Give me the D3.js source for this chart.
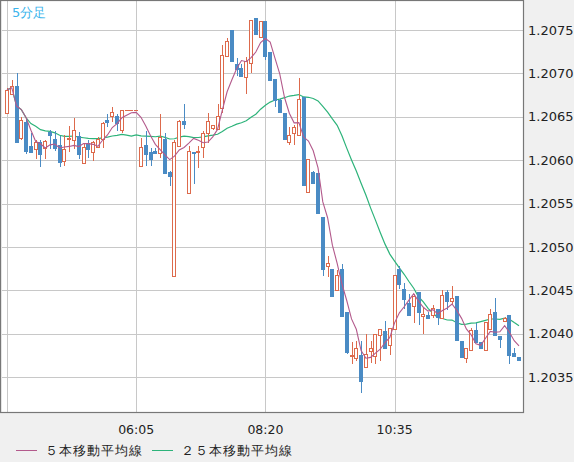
<!DOCTYPE html>
<html>
<head>
<meta charset="utf-8">
<script src="https://cdn.jsdelivr.net/npm/d3@7"></script>
<style>
  body { margin: 0; background: #f0f0f0; }
  text { font-family: "DejaVu Sans", sans-serif; }
</style>
</head>
<body>
<svg id="chart" width="574" height="462"></svg>
<script>
// 5-minute candles, first bar 03:50
const opens = [1.20654,1.20677,1.20685,1.20625,1.20644,1.20616,1.20613,1.20621,1.20614,1.20632,1.20624,1.20618,1.20599,1.20624,1.20624,1.20628,1.20596,1.20620,1.20610,1.20615,1.20624,1.20646,1.20651,1.20651,1.20635,1.20658,1.20658,1.20658,
  1.20593,1.20618,1.20609,1.20611,1.20609,1.20624,1.20586,1.20466,1.20616,1.20645,1.20562,1.20609,1.20609,1.20615,1.20631,1.20637,1.20636,1.20660,1.20720,1.20750,1.20711,1.20706,1.20696,1.20711,1.20764,1.20742,1.20760,
  1.20725,1.20693,1.20669,1.20654,1.20621,1.20631,1.20629,1.20673,1.20563,1.20586,1.20585,1.20534,1.20478,1.20474,1.20451,1.20474,1.20425,1.20374,1.20371,1.20375,1.20361,1.20381,1.20375,1.20398,1.20403,1.20386,1.20406,
  1.20475,1.20452,1.20435,1.20431,1.20448,1.20421,1.20421,1.20421,1.20428,1.20418,1.20448,1.20438,1.20443,1.20391,1.20371,1.20381,1.20404,1.20390,1.20381,1.20406,1.20425,1.20397,1.20415,1.20421,1.20378,1.20373];
const highs = [1.20683,1.20692,1.20700,1.20650,1.20648,1.20631,1.20623,1.20623,1.20623,1.20635,1.20633,1.20628,1.20629,1.20639,1.20648,1.20632,1.20620,1.20623,1.20622,1.20627,1.20644,1.20653,1.20661,1.20653,1.20658,1.20658,1.20658,1.20658,
  1.20625,1.20633,1.20614,1.20614,1.20653,1.20631,1.20588,1.20623,1.20646,1.20665,1.20616,1.20609,1.20616,1.20633,1.20654,1.20641,1.20665,1.20733,1.20741,1.20750,1.20718,1.20711,1.20719,1.20761,1.20764,1.20760,1.20760,
  1.20725,1.20693,1.20671,1.20654,1.20638,1.20641,1.20695,1.20673,1.20601,1.20588,1.20585,1.20534,1.20490,1.20474,1.20473,1.20480,1.20425,1.20390,1.20392,1.20392,1.20400,1.20392,1.20400,1.20405,1.20414,1.20406,1.20468,
  1.20478,1.20458,1.20446,1.20446,1.20448,1.20429,1.20425,1.20433,1.20428,1.20450,1.20450,1.20455,1.20443,1.20391,1.20383,1.20406,1.20412,1.20390,1.20413,1.20428,1.20441,1.20397,1.20419,1.20421,1.20384,1.20373];
const lows = [1.20653,1.20677,1.20620,1.20623,1.20607,1.20609,1.20601,1.20592,1.20601,1.20613,1.20611,1.20592,1.20593,1.20609,1.20613,1.20601,1.20596,1.20602,1.20599,1.20614,1.20614,1.20638,1.20644,1.20633,1.20631,1.20658,1.20658,1.20658,
  1.20593,1.20593,1.20593,1.20608,1.20603,1.20585,1.20570,1.20466,1.20615,1.20636,1.20562,1.20573,1.20591,1.20603,1.20620,1.20635,1.20636,1.20654,1.20719,1.20714,1.20697,1.20697,1.20676,1.20700,1.20746,1.20742,1.20715,
  1.20693,1.20661,1.20655,1.20624,1.20617,1.20618,1.20629,1.20572,1.20562,1.20573,1.20539,1.20467,1.20465,1.20443,1.20450,1.20420,1.20377,1.20365,1.20369,1.20332,1.20361,1.20366,1.20365,1.20369,1.20382,1.20375,1.20406,
  1.20452,1.20428,1.20421,1.20412,1.20410,1.20400,1.20417,1.20418,1.20410,1.20418,1.20427,1.20434,1.20392,1.20373,1.20366,1.20381,1.20389,1.20382,1.20381,1.20404,1.20399,1.20383,1.20414,1.20365,1.20374,1.20369];
const closes = [1.20681,1.20686,1.20620,1.20646,1.20611,1.20609,1.20621,1.20607,1.20622,1.20629,1.20614,1.20598,1.20613,1.20625,1.20635,1.20607,1.20615,1.20613,1.20621,1.20624,1.20643,1.20644,1.20656,1.20643,1.20658,1.20658,1.20658,1.20658,
  1.20615,1.20608,1.20601,1.20609,1.20627,1.20585,1.20581,1.20621,1.20645,1.20641,1.20610,1.20608,1.20610,1.20631,1.20645,1.20640,1.20651,1.20721,1.20737,1.20714,1.20705,1.20697,1.20714,1.20761,1.20746,1.20760,1.20720,
  1.20693,1.20669,1.20655,1.20624,1.20629,1.20638,1.20670,1.20572,1.20601,1.20573,1.20539,1.20474,1.20481,1.20443,1.20468,1.20420,1.20379,1.20375,1.20383,1.20345,1.20376,1.20384,1.20400,1.20405,1.20383,1.20406,1.20468,
  1.20458,1.20440,1.20421,1.20443,1.20425,1.20423,1.20418,1.20429,1.20419,1.20444,1.20438,1.20441,1.20392,1.20373,1.20383,1.20404,1.20390,1.20383,1.20413,1.20423,1.20399,1.20393,1.20418,1.20375,1.20374,1.20369];
const timeTicks = [27, 54, 81];
const timeLabels = ["06:05", "08:20", "10:35"];
const priceTicks = [1.2035, 1.2040, 1.2045, 1.2050, 1.2055, 1.2060, 1.2065, 1.2070, 1.2075];

const svg = d3.select("#chart");
const pL = 2, pR = 523, pT = 1, pB = 412;

const x = d3.scaleLinear().domain([0, 107]).range([7, 519]);
const y = d3.scaleLinear().domain([1.2035, 1.2075]).range([377, 30]);

svg.append("rect").attr("x", pL).attr("y", pT).attr("width", pR - pL).attr("height", pB - pT)
  .attr("fill", "#fff");

// grid
const grid = svg.append("g").attr("stroke", "#c8c8c8").attr("shape-rendering", "crispEdges");
grid.selectAll(".h").data(priceTicks).enter().append("line")
  .attr("x1", pL).attr("x2", pR).attr("y1", d => Math.round(y(d)) + 0.5).attr("y2", d => Math.round(y(d)) + 0.5);
grid.selectAll(".v").data([0].concat(timeTicks)).enter().append("line")
  .attr("y1", pT).attr("y2", pB).attr("x1", d => Math.round(x(d)) + 0.5).attr("x2", d => Math.round(x(d)) + 0.5);

// moving averages
function ma(n) {
  return closes.map((c, i) => d3.mean(closes.slice(Math.max(0, i - n + 1), i + 1)));
}
const line = d3.line().x((d, i) => x(i)).y(d => y(d));
const plot = svg.append("g");
plot.append("path").attr("d", line(ma(25))).attr("fill", "none").attr("stroke", "#2db37a").attr("stroke-width", 1.2);

// candles
const idx = d3.range(closes.length);
const up = "#dd6a4c", down = "#4a8bc4";
const c = plot.append("g").attr("shape-rendering", "crispEdges");
c.selectAll(".w").data(idx).enter().append("line")
  .attr("x1", i => Math.round(x(i)) + 0.5).attr("x2", i => Math.round(x(i)) + 0.5)
  .attr("y1", i => y(highs[i])).attr("y2", i => y(lows[i]))
  .attr("stroke", i => closes[i] >= opens[i] ? up : down);
c.selectAll(".b").data(idx).enter().append("rect")
  .attr("x", i => Math.round(x(i)) - 1.5)
  .attr("width", 3)
  .attr("y", i => Math.round(y(Math.max(opens[i], closes[i]))) + 0.5)
  .attr("height", i => Math.max(0.01, Math.round(Math.abs(y(opens[i]) - y(closes[i])))))
  .attr("fill", i => closes[i] >= opens[i] ? "#fff" : down)
  .attr("stroke", i => closes[i] >= opens[i] ? up : down);

plot.append("path").attr("d", line(ma(5))).attr("fill", "none").attr("stroke", "#b35a8c").attr("stroke-width", 1.1);

// frame
svg.append("rect").attr("x", pL - 1.5).attr("y", pT - 0.5).attr("width", pR - pL + 2).attr("height", pB - pT + 1)
  .attr("fill", "none").attr("stroke", "#777").attr("stroke-width", 1.2);

// price axis
const yAxis = svg.append("g").attr("transform", `translate(${pR},0)`)
  .call(d3.axisRight(y).tickValues(priceTicks).tickFormat(d3.format(".4f")).tickSize(0).tickPadding(5));
yAxis.select(".domain").remove();
yAxis.selectAll("text").attr("font-size", 13).attr("fill", "#222").attr("font-family", "DejaVu Sans");

// time axis
svg.append("g").selectAll("text").data(timeTicks).enter().append("text")
  .attr("x", d => x(d)).attr("y", 434).attr("text-anchor", "middle")
  .attr("font-size", 12.5).attr("fill", "#222").text((d, i) => timeLabels[i]);

svg.append("text").attr("x", 12).attr("y", 17).attr("font-size", 13).attr("fill", "#3ab4ec").text("5分足");

// legend
const legend = [["５本移動平均線", "#b35a8c", 16], ["２５本移動平均線", "#2db37a", 152]];
legend.forEach(([t, col, lx]) => {
  svg.append("line").attr("x1", lx).attr("x2", lx + 21).attr("y1", 450.5).attr("y2", 450.5).attr("stroke", col);
  svg.append("text").attr("x", lx + 29).attr("y", 455).attr("font-size", 12.5).attr("fill", "#222")
    .attr("letter-spacing", 1).text(t);
});
</script>
</body>
</html>
